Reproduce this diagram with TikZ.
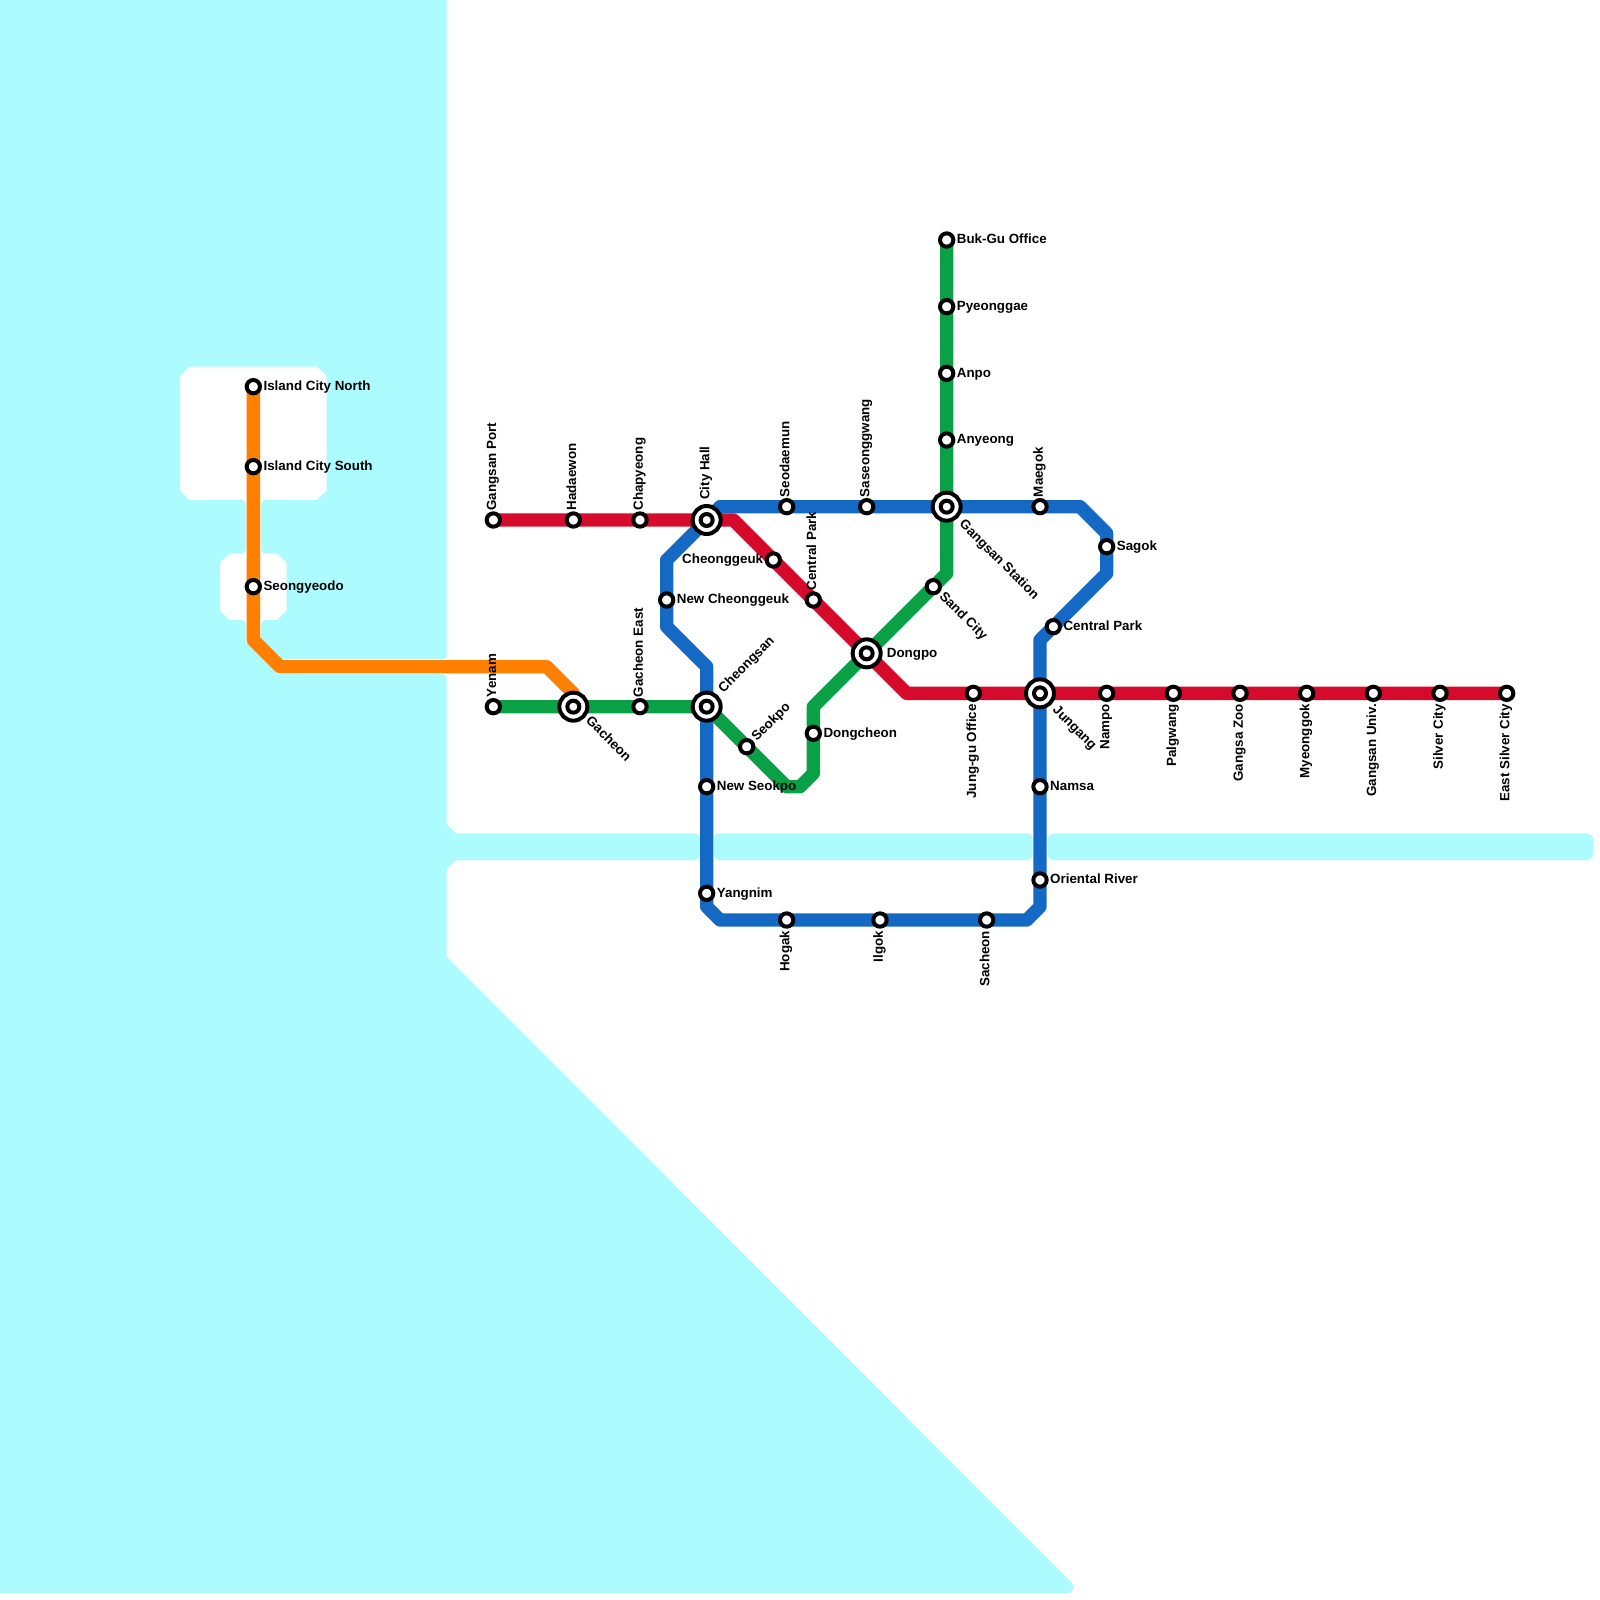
\documentclass[tikz,border=0pt]{standalone}
\usepackage{fontspec}
\setmainfont{Liberation Sans}
\pgfdeclarelayer{water}
\pgfdeclarelayer{lines}
\pgfsetlayers{water,lines,main}
\definecolor{waterc}{HTML}{ACFCFF}
\definecolor{redline}{HTML}{D60A2A}
\definecolor{blueline}{HTML}{1469C4}
\definecolor{greenline}{HTML}{0AA146}
\definecolor{orangeline}{HTML}{FF8000}

\begin{document}
\begin{tikzpicture}[x=.4cm, y=-.4cm,
    station/.style={circle, draw=black, fill=white, line width=.12cm, inner sep=0pt, outer sep=0pt, minimum size=.4cm},
    hub/.style={station, minimum size=.84cm,
      path picture={\draw[line width=.12cm] (path picture bounding box.center) circle (.18cm);}},
    metro/.style={line width=.4cm, line join=round},
    rnd/.style={rounded corners=.12cm},
    txt/.style={font=\fontsize{11.4}{12}\selectfont\bfseries, inner sep=0pt, text height=.85em, text depth=.2em},
    txtr/.style={txt, anchor=west},
    txtl/.style={txt, anchor=east},
    txtu/.style={txt, rotate=90, anchor=west, yshift=.03cm},
    txtd/.style={txt, rotate=90, anchor=east, yshift=.03cm},
    txtne/.style={txt, rotate=45, anchor=west},
    txtse/.style={txt, rotate=-45, anchor=west}]
  \useasboundingbox (0,0) rectangle (120,120);

  % orange line
  \node[station] (islandnorth) at (19,29) {};
  \node[station] (islandsouth) at (19,35) {};
  \node[station] (seongyeodo) at (19,44) {};
  \coordinate (orangea) at (19,48);
  \coordinate (orangeb) at (21,50);
  \coordinate (orangec) at (41,50);
  \coordinate (oranged) at (43,52);
  % red line
  \node[station] (gangsanport) at (37,39) {};
  \node[station] (hadaewon) at (43,39) {};
  \node[station] (chapyeong) at (48,39) {};
  \node[hub] (cityhall) at (53,39) {};
  \node[station] (cheonggeuk) at (58,42) {};
  \node[station] (centralparkr) at (61,45) {};
  \node[hub] (dongpo) at (65,49) {};
  \node[station] (junggu) at (73,52) {};
  \node[hub] (jungang) at (78,52) {};
  \node[station] (nampo) at (83,52) {};
  \node[station] (palgwang) at (88,52) {};
  \node[station] (gangsazoo) at (93,52) {};
  \node[station] (myeonggok) at (98,52) {};
  \node[station] (gangsanuniv) at (103,52) {};
  \node[station] (silvercity) at (108,52) {};
  \node[station] (eastsilver) at (113,52) {};
  \coordinate (reda) at (55,39);
  \coordinate (redb) at (68,52);
  % green line
  \node[station] (yenam) at (37,53) {};
  \node[hub] (gacheon) at (43,53) {};
  \node[station] (gacheoneast) at (48,53) {};
  \node[hub] (cheongsan) at (53,53) {};
  \node[station] (seokpo) at (56,56) {};
  \node[station] (dongcheon) at (61,55) {};
  \node[station] (sandcity) at (70,44) {};
  \node[hub] (gangsanstn) at (71,38) {};
  \node[station] (anyeong) at (71,33) {};
  \node[station] (anpo) at (71,28) {};
  \node[station] (pyeonggae) at (71,23) {};
  \node[station] (bukgu) at (71,18) {};
  \coordinate (greena) at (59,59);
  \coordinate (greenb) at (60,59);
  \coordinate (greenc) at (61,58);
  \coordinate (greend) at (61,53);
  \coordinate (greene) at (71,43);
  % blue line
  \node[station] (seodaemun) at (59,38) {};
  \node[station] (saseong) at (65,38) {};
  \node[station] (maegok) at (78,38) {};
  \node[station] (sagok) at (83,41) {};
  \node[station] (centralparkb) at (79,47) {};
  \node[station] (namsa) at (78,59) {};
  \node[station] (oriental) at (78,66) {};
  \node[station] (sacheon) at (74,69) {};
  \node[station] (ilgok) at (66,69) {};
  \node[station] (hogak) at (59,69) {};
  \node[station] (yangnim) at (53,67) {};
  \node[station] (newseokpo) at (53,59) {};
  \node[station] (newcheong) at (50,45) {};
  \coordinate (bluea) at (54,38);
  \coordinate (blueb) at (81,38);
  \coordinate (bluec) at (83,40);
  \coordinate (blued) at (83,43);
  \coordinate (bluee) at (78,48);
  \coordinate (bluef) at (78,68);
  \coordinate (blueg) at (77,69);
  \coordinate (blueh) at (54,69);
  \coordinate (bluei) at (53,68);
  \coordinate (bluej) at (53,50);
  \coordinate (bluek) at (50,47);
  \coordinate (bluel) at (50,42);

  \begin{pgfonlayer}{water}
    \fill[waterc] (-2,-2) -- (33.5,-2) [rnd] -- (33.5,49.45) [sharp corners] -- (21.16,49.45) -- (19.55,47.84)
      [rnd] -- (19.55,46.5) [sharp corners] -- (20.79,46.5) -- (21.5,45.79) -- (21.5,42.21) -- (20.79,41.5)
      [rnd] -- (19.55,41.5) -- (19.55,37.5) [sharp corners] -- (23.79,37.5) -- (24.5,36.79) -- (24.5,28.21)
      -- (23.79,27.5) -- (14.21,27.5) -- (13.5,28.21) -- (13.5,36.79) -- (14.21,37.5)
      [rnd] -- (18.45,37.5) -- (18.45,41.5) [sharp corners] -- (17.21,41.5) -- (16.5,42.21) -- (16.5,45.79)
      -- (17.21,46.5) [rnd] -- (18.45,46.5) [sharp corners] -- (18.45,48.16) -- (20.84,50.55)
      [rnd] -- (33.5,50.55) [sharp corners] -- (33.5,61.79) -- (34.21,62.5)
      [rnd] -- (52.45,62.5) -- (52.45,64.5) [sharp corners] -- (34.21,64.5)
      -- (33.5,65.21) -- (33.5,71.75) -- (80.35,118.65) .. controls (80.65,118.95) and (80.5,119.5) .. (80,119.5)
      -- (-2,119.5) -- cycle;
    \fill[waterc, rounded corners=.14cm] (53.55,62.5) rectangle (77.45,64.5);
    \fill[waterc, rounded corners=.2cm] (78.55,62.5) rectangle (119.5,64.5);
  \end{pgfonlayer}

  \begin{pgfonlayer}{lines}
    \draw[metro, orangeline] (islandnorth.center) -- (orangea) -- (orangeb) -- (orangec) -- (oranged) -- (gacheon.center);
    \draw[metro, greenline] (yenam.center) -- (cheongsan.center) -- (greena) -- (greenb) -- (greenc) -- (greend)
      -- (dongpo.center) -- (greene) -- (bukgu.center);
    \draw[metro, blueline] (cityhall.center) -- (bluea) -- (blueb) -- (bluec) -- (blued) -- (bluee) -- (bluef)
      -- (blueg) -- (blueh) -- (bluei) -- (bluej) -- (bluek) -- (bluel) -- cycle;
    \draw[metro, redline] (gangsanport.center) -- (reda) -- (dongpo.center) -- (redb) -- (eastsilver.center);
  \end{pgfonlayer}

  \node[txtr] (islandnorthtxt) at (19.75,29) {Island City North};
  \node[txtr] (islandsouthtxt) at (19.75,35) {Island City South};
  \node[txtr] (seongyeodotxt) at (19.75,44) {Seongyeodo};
  \node[txtu] (gangsanporttxt) at (37,38.3) {Gangsan Port};
  \node[txtu] (hadaewontxt) at (43,38.3) {Hadaewon};
  \node[txtu] (chapyeongtxt) at (48,38.3) {Chapyeong};
  \node[txtu] (cityhalltxt) at (53,37.5) {City Hall};
  \node[txtl] (cheonggeuktxt) at (57.25,42) {Cheonggeuk};
  \node[txtu] (centralparkrtxt) at (61,44.3) {Central Park};
  \node[txtr] (dongpotxt) at (66.5,49) {Dongpo};
  \node[txtd] (junggutxt) at (73,52.8) {Jung-gu Office};
  \node[txtse] (jungangtxt) at (79.1,53.1) {Jungang};
  \node[txtd] (nampotxt) at (83,52.8) {Nampo};
  \node[txtd] (palgwangtxt) at (88,52.8) {Palgwang};
  \node[txtd] (gangsazootxt) at (93,52.8) {Gangsa Zoo};
  \node[txtd] (myeonggoktxt) at (98,52.8) {Myeonggok};
  \node[txtd] (gangsanunivtxt) at (103,52.8) {Gangsan Univ.};
  \node[txtd] (silvercitytxt) at (108,52.8) {Silver City};
  \node[txtd] (eastsilvertxt) at (113,52.8) {East Silver City};
  \node[txtu] (yenamtxt) at (37,52.3) {Yenam};
  \node[txtse] (gacheontxt) at (44.1,53.9) {Gacheon};
  \node[txtu] (gacheoneasttxt) at (48,52.3) {Gacheon East};
  \node[txtne] (cheongsantxt) at (54.05,51.8) {Cheongsan};
  \node[txtne] (seokpotxt) at (56.55,55.45) {Seokpo};
  \node[txtr] (dongcheontxt) at (61.75,55) {Dongcheon};
  \node[txtse] (sandcitytxt) at (70.6,44.58) {Sand City};
  \node[txtse] (gangsanstntxt) at (72.1,39.15) {Gangsan Station};
  \node[txtr] (anyeongtxt) at (71.75,33) {Anyeong};
  \node[txtr] (anpotxt) at (71.75,28) {Anpo};
  \node[txtr] (pyeonggaetxt) at (71.75,23) {Pyeonggae};
  \node[txtr] (bukgutxt) at (71.75,18) {Buk-Gu Office};
  \node[txtu] (seodaemuntxt) at (59,37.3) {Seodaemun};
  \node[txtu] (saseongtxt) at (65,37.3) {Saseonggwang};
  \node[txtu] (maegoktxt) at (78,37.3) {Maegok};
  \node[txtr] (sagoktxt) at (83.75,41) {Sagok};
  \node[txtr] (centralparkbtxt) at (79.75,47) {Central Park};
  \node[txtr] (namsatxt) at (78.75,59) {Namsa};
  \node[txtr] (orientaltxt) at (78.75,66) {Oriental River};
  \node[txtd] (sacheontxt) at (74,69.8) {Sacheon};
  \node[txtd] (ilgoktxt) at (66,69.8) {Ilgok};
  \node[txtd] (hogaktxt) at (59,69.8) {Hogak};
  \node[txtr] (yangnimtxt) at (53.75,67) {Yangnim};
  \node[txtr] (newseokpotxt) at (53.75,59) {New Seokpo};
  \node[txtr] (newcheongtxt) at (50.75,45) {New Cheonggeuk};
\end{tikzpicture}
\end{document}
